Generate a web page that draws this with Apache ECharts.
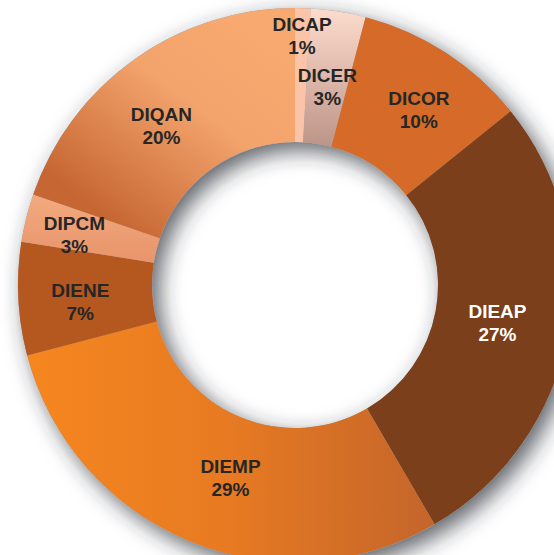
<!DOCTYPE html>
<html>
<head>
<meta charset="utf-8">
<script src="https://cdn.jsdelivr.net/npm/echarts@6/dist/echarts.min.js"></script>
<style>
html,body{margin:0;padding:0;background:#fff;}
#chart{width:554px;height:555px;}
</style>
</head>
<body>
<div id="chart"></div>
<script>
// Data
const categories = ['DICAP', 'DICER', 'DICOR', 'DIEAP', 'DIEMP', 'DIENE', 'DIPCM', 'DIQAN'];
const shares = [0.9, 3.2, 10.1, 27.4, 29.3, 6.6, 2.8, 19.7];

// Styles
const sliceColors = [
  '#fbc3a7',
  {type:'linear', x:0, y:0, x2:0, y2:1, colorStops:[{offset:0,color:'#fddccd'},{offset:1,color:'#bd9488'}]},
  '#d56a29',
  '#7b3f1b',
  {type:'linear', x:0, y:0, x2:1, y2:0, colorStops:[{offset:0,color:'#f6861f'},{offset:0.5,color:'#e77a22'},{offset:1,color:'#c4652b'}]},
  '#b4581f',
  {type:'linear', x:0, y:0, x2:0, y2:1, colorStops:[{offset:0,color:'#f3aa80'},{offset:1,color:'#e8946a'}]},
  {type:'linear', x:0.85, y:0.1, x2:0.2, y2:0.85, colorStops:[{offset:0,color:'#f7a96f'},{offset:0.4,color:'#f3a36c'},{offset:1,color:'#c66632'}]}
];
const labelColors = ['#262626','#262626','#262626','#ffffff','#262626','#262626','#262626','#262626'];
const labelNudge = [[1,-36],[-1,12],[8,4],[-7,-1],[17,-4],[-2,6],[-14,2],[-10,14]];

const chart = echarts.init(document.getElementById('chart'), null, {renderer:'svg'});
const total = shares.reduce((a,b)=>a+b,0);
const center = [295, 285];
const radius = [143, 277];

chart.setOption({
  animation: false,
  series: [
    {
      type: 'pie',
      silent: true,
      z: 1,
      center: center,
      radius: radius,
      startAngle: 90,
      label: {show:false},
      labelLine: {show:false},
      emphasis: {disabled: true},
      itemStyle: {
        color: '#a0a3a8',
        shadowBlur: 22,
        shadowColor: 'rgba(40,45,55,0.75)',
        shadowOffsetX: 7,
        shadowOffsetY: 8
      },
      data: [{value: 1, name: 'bg'}]
    },
    {
      type: 'pie',
      z: 2,
      center: center,
      radius: radius,
      startAngle: 90,
      clockwise: true,
      avoidLabelOverlap: false,
      emphasis: {disabled: true},
      itemStyle: {borderWidth: 0},
      label: {
        show: true,
        position: 'inside',
        fontFamily: '"Liberation Sans", Arial, sans-serif',
        fontWeight: 'bold',
        fontSize: 19,
        lineHeight: 23,
        align: 'center',
        formatter: p => p.name + '\n' + Math.round(p.value / total * 100) + '%'
      },
      labelLayout: function (params) {
        const n = labelNudge[params.dataIndex];
        return {dx: n[0], dy: n[1]};
      },
      labelLine: {show: false},
      data: categories.map((c, i) => ({
        name: c,
        value: shares[i],
        itemStyle: {color: sliceColors[i]},
        label: {color: labelColors[i]}
      }))
    }
  ]
});
</script>
</body>
</html>
